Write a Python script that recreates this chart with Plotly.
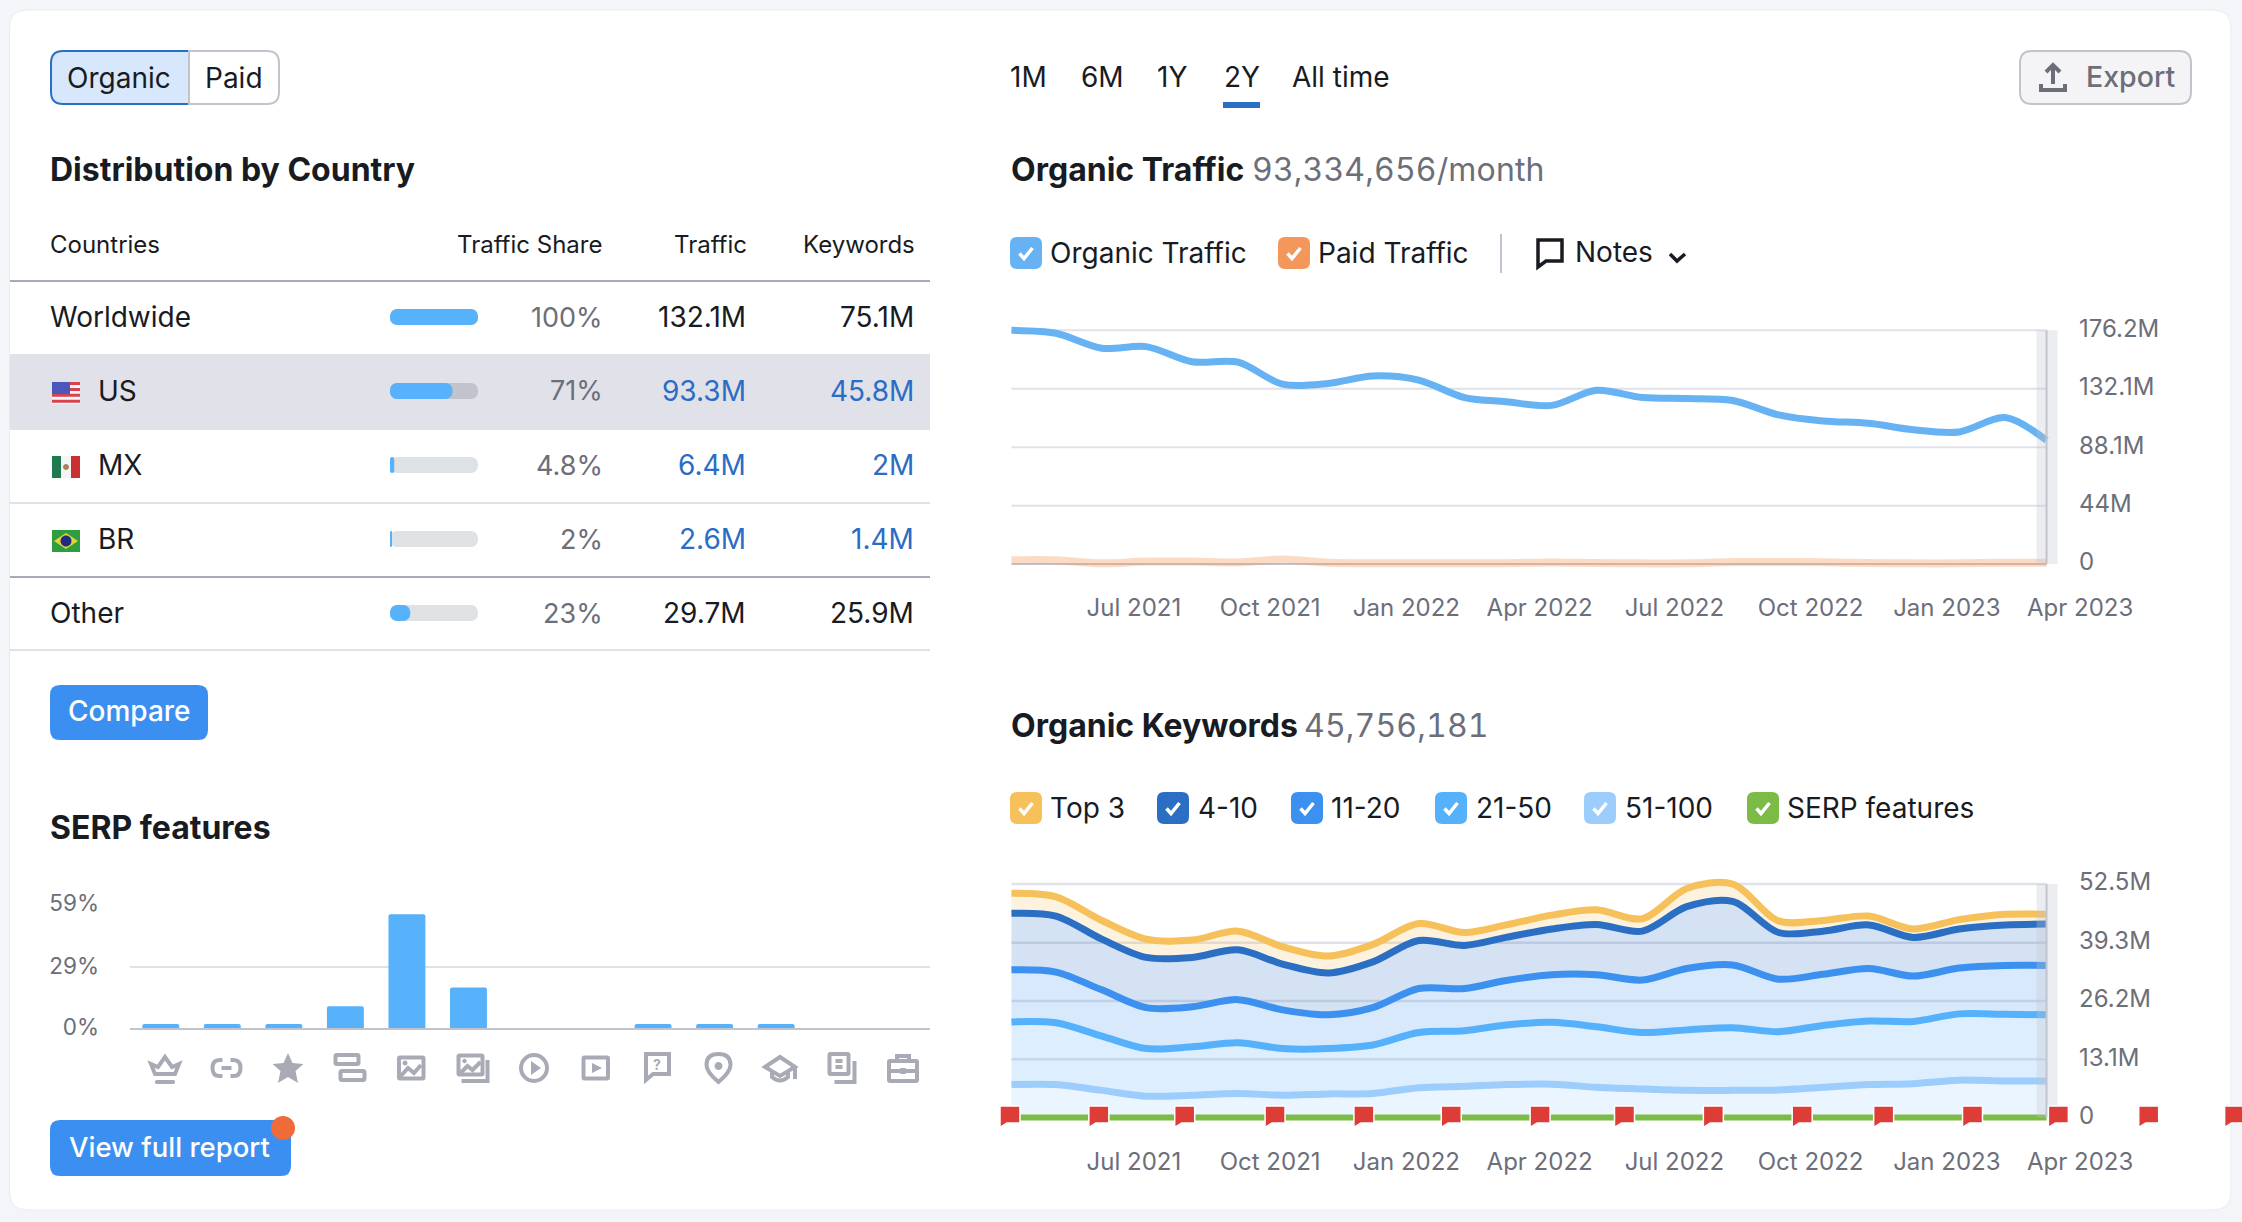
import plotly.graph_objects as go

W, H = 2242, 1222

# ---------- data ----------
countries = ["Worldwide", "US", "MX", "BR", "Other"]
share_values = [100, 71, 4.8, 2, 23]
share_labels = ["100%", "71%", "4.8%", "2%", "23%"]
traffic_labels = ["132.1M", "93.3M", "6.4M", "2.6M", "29.7M"]
keyword_labels = ["75.1M", "45.8M", "2M", "1.4M", "25.9M"]

serp_features = ["Featured snippet", "Sitelinks", "Reviews", "Top stories", "Images", "Image pack",
                 "Video", "Featured video", "People also ask", "Local pack", "Knowledge", "News", "Jobs"]
serp_values = [1.9, 1.9, 1.9, 10.4, 54.1, 19.3, 0, 0, 1.9, 1.9, 1.9, 0, 0]
serp_ticks = [0, 29, 59]
serp_ticktext = ["0%", "29%", "59%"]

months = ["2021-04-10", "2021-05-10", "2021-06-10", "2021-07-10", "2021-08-10", "2021-09-10",
          "2021-10-10", "2021-11-10", "2021-12-10", "2022-01-10", "2022-02-10", "2022-03-10",
          "2022-04-10", "2022-05-10", "2022-06-10", "2022-07-10", "2022-08-10", "2022-09-10",
          "2022-10-10", "2022-11-10", "2022-12-10", "2023-01-10", "2023-02-10", "2023-03-10"]
organic_traffic = [176.2, 174.0, 162.7, 163.9, 152.5, 152.2, 135.6, 136.2, 141.8, 138.7, 125.5, 122.4,
                   119.6, 131.0, 125.5, 124.8, 123.3, 112.5, 107.9, 106.1, 101.2, 99.6, 110.4, 93.3]
paid_traffic = [2.8, 2.8, 0.5, 1.8, 1.8, 1.2, 3.4, 1.0, 0.6, 0.5, 0.5, 0.6,
                1.2, 0.7, 0.5, 0.5, 1.5, 1.5, 1.3, 0.7, 0.5, 0.5, 0.9, 1.0]
traffic_ticks = [0, 44, 88.1, 132.1, 176.2]
traffic_ticktext = ["0", "44M", "88.1M", "132.1M", "176.2M"]

kw_top3 = [50.4, 49.6, 44.3, 40.1, 39.9, 41.9, 38.4, 36.3, 38.9, 43.6, 41.6, 43.3,
           45.5, 46.7, 44.7, 51.5, 52.5, 44.2, 44.3, 45.3, 42.4, 44.5, 45.7, 45.7]
kw_4_10 = [45.9, 45.3, 40.1, 36.0, 36.0, 37.7, 34.5, 32.5, 35.0, 39.8, 38.7, 40.5,
           42.4, 43.4, 41.9, 47.4, 48.6, 41.6, 41.9, 43.3, 40.5, 42.4, 43.3, 43.5]
kw_11_20 = [33.2, 32.7, 28.7, 24.7, 24.9, 26.5, 24.2, 23.1, 24.7, 29.0, 29.0, 30.8,
            32.1, 32.1, 30.9, 33.5, 34.3, 31.1, 32.2, 33.5, 31.8, 33.6, 34.2, 34.2]
kw_21_50 = [21.5, 21.3, 18.3, 15.5, 15.9, 16.8, 15.5, 15.5, 16.3, 19.1, 19.5, 20.8,
            21.4, 20.4, 19.1, 19.7, 20.2, 19.3, 20.7, 21.7, 21.6, 23.3, 23.2, 23.1]
kw_51_100 = [7.4, 7.4, 6.1, 4.8, 5.0, 5.4, 5.0, 5.3, 5.4, 6.7, 7.0, 7.4,
             7.5, 6.8, 6.4, 6.1, 6.1, 6.2, 6.8, 7.4, 7.6, 8.4, 8.2, 8.2]
kw_serp = [0] * 24
kw_ticks = [0, 13.1, 26.2, 39.3, 52.5]
kw_ticktext = ["0", "13.1M", "26.2M", "39.3M", "52.5M"]

date_ticks = ["2021-07-01", "2021-10-01", "2022-01-01", "2022-04-01",
              "2022-07-01", "2022-10-01", "2023-01-01", "2023-04-01"]
date_ticktext = ["Jul 2021", "Oct 2021", "Jan 2022", "Apr 2022",
                 "Jul 2022", "Oct 2022", "Jan 2023", "Apr 2023"]
note_dates = ["2021-04-09", "2021-06-08", "2021-08-05", "2021-10-05", "2021-12-04",
              "2022-02-01", "2022-04-02", "2022-05-29", "2022-07-28", "2022-09-26",
              "2022-11-20", "2023-01-19", "2023-03-18", "2023-05-18", "2023-07-15"]

# ---------- style ----------
FONT = "Inter"
DARK, GRAY, LINK = "#191b23", "#6c6e79", "#2b6cc4"
GRID, AXIS, ICON = "#e0e1e9", "#c1c4cd", "#a8abb5"
C_ORG, C_PAID = "#66b2f2", "#f4975a"
C_TOP3, C_410, C_1120, C_2150, C_51, C_SERP = "#f6c05a", "#2a6fc4", "#3b90f0", "#55b1fb", "#9dcdfd", "#7bbb46"
BTN = "#3b8ff0"


def fx(p):
    return p / W


def fy(p):
    return 1 - p / H


def pt(x, y):
    return f"{fx(x):.6f},{fy(y):.6f}"


def P(cmds, ox=0, oy=0):
    """cmds: list of (letter, x, y, ...) in pixels relative to (ox, oy)."""
    out = []
    for c in cmds:
        if c == "Z":
            out.append("Z")
        else:
            xy = c[1:]
            pts = [pt(ox + xy[i], oy + xy[i + 1]) for i in range(0, len(xy), 2)]
            out.append(c[0] + " ".join(pts))
    return " ".join(out)


def rr_cmds(x0, y0, x1, y1, r=0, rl=None, rr=None):
    rl = r if rl is None else rl
    rr = r if rr is None else rr
    return [("M", x0 + rl, y0), ("L", x1 - rr, y0), ("Q", x1, y0, x1, y0 + rr), ("L", x1, y1 - rr),
            ("Q", x1, y1, x1 - rr, y1), ("L", x0 + rl, y1), ("Q", x0, y1, x0, y1 - rl),
            ("L", x0, y0 + rl), ("Q", x0, y0, x0 + rl, y0), "Z"]


def circ_cmds(cx, cy, r):
    k = 0.5523 * r
    return [("M", cx - r, cy), ("C", cx - r, cy - k, cx - k, cy - r, cx, cy - r),
            ("C", cx + k, cy - r, cx + r, cy - k, cx + r, cy),
            ("C", cx + r, cy + k, cx + k, cy + r, cx, cy + r),
            ("C", cx - k, cy + r, cx - r, cy + k, cx - r, cy), "Z"]


shapes, annos = [], []


def shp(cmds, fill="rgba(0,0,0,0)", line=None, lw=0, ox=0, oy=0, layer="below"):
    shapes.append(dict(type="path", xref="paper", yref="paper", path=P(cmds, ox, oy), fillcolor=fill,
                       line=dict(color=line or "rgba(0,0,0,0)", width=lw), layer=layer))


def rect(x0, y0, x1, y1, fill, r=0, line=None, lw=0, layer="below", **kw):
    shp(rr_cmds(x0, y0, x1, y1, r, **kw), fill=fill, line=line, lw=lw, layer=layer)


def txt(x, y, s, size=28, color=DARK, anchor="left", weight=400):
    annos.append(dict(xref="paper", yref="paper", x=fx(x), y=fy(y), text=s, showarrow=False,
                      xanchor=anchor, yanchor="middle", borderpad=0, align=anchor,
                      font=dict(family=FONT, size=size, color=color, weight=weight)))


# card
rect(9.5, 10, 2231, 1210, "#ffffff", r=18, line="#ebecf1", lw=1)

# toggle
rect(51, 51, 189, 104, "#d7e8fc", line=C_410, lw=2, rl=12, rr=0)
rect(189, 51, 279, 104, "#ffffff", line=AXIS, lw=2, rl=0, rr=12)
txt(119, 78, "Organic", 28, anchor="center")
txt(233.5, 78, "Paid", 28, anchor="center")

# table
txt(49, 170, "Distribution by Country", 32, weight=700)
txt(49, 245, "Countries", 24)
txt(602.5, 245, "Traffic Share", 24, anchor="right")
txt(747.5, 245, "Traffic", 24, anchor="right")
txt(915.5, 245, "Keywords", 24, anchor="right")
rect(10, 354, 930, 430, GRID)
shp([("M", 10, 281), ("L", 930, 281)], line="#a8abb5", lw=2)
shp([("M", 10, 503), ("L", 930, 503)], line=GRID, lw=2)
shp([("M", 10, 577), ("L", 930, 577)], line="#a8abb5", lw=2)
shp([("M", 10, 650), ("L", 930, 650)], line=GRID, lw=2)
for i, c in enumerate(countries):
    cy = 317 + 74 * i
    lx = 97 if 1 <= i <= 3 else 49
    txt(lx, cy, c, 28)
    txt(603.5, cy, share_labels[i], 27, GRAY, "right")
    colr = LINK if 1 <= i <= 3 else DARK
    txt(747, cy, traffic_labels[i], 28, colr, "right")
    txt(915, cy, keyword_labels[i], 28, colr, "right")

# flags
rect(52, 382, 80, 404, "#f5f5f5")
for k in range(4):
    rect(52, 382 + k * 5.9, 80, 382 + k * 5.9 + 3, "#d9434e")
rect(52, 382, 70, 394, "#4c57bb")
rect(52, 456, 80, 478, "#f4f4f4")
rect(52, 456, 61, 478, "#1f7a50")
rect(71, 456, 80, 478, "#c9302f")
shp(circ_cmds(66, 467, 3), fill="#a8835a")
rect(52, 530, 80, 552, "#2e9e3f")
shp([("M", 54, 541), ("L", 66, 533), ("L", 78, 541), ("L", 66, 549), "Z"], fill="#e8d23a")
shp(circ_cmds(66, 541, 5.5), fill="#1f2f80")

# buttons
rect(50, 685, 208, 740, BTN, r=10)
txt(129, 711, "Compare", 28, "#ffffff", "center", 500)
txt(49, 827, "SERP features", 32, weight=700)
rect(50, 1120, 291, 1176, BTN, r=10)
txt(68, 1147, "View full report", 27.5, "#ffffff", weight=500)
shp(circ_cmds(283, 1128, 12), fill="#ef6c3a", layer="above")

# SERP icons
ICY = 1068
LW = 4


def ic(cmds, cx, fill=False):
    if fill:
        shp(cmds, fill=ICON, ox=cx, oy=ICY)
    else:
        shp(cmds, line=ICON, lw=LW, ox=cx, oy=ICY)


icx = [165, 226.5, 288, 349.5, 411, 472.5, 534, 595.5, 657, 718.5, 780, 841.5, 903]
# crown
ic([("M", -14, -4), ("L", -7, -1), ("L", 0, -11), ("L", 7, -1), ("L", 14, -4), ("L", 10, 6), ("L", -10, 6), "Z"], icx[0])
ic(rr_cmds(-10, 12, 10, 16, 1.5), icx[0], True)
# link
ic([("M", -4, -8), ("L", -7, -8), ("Q", -14, -8, -14, 0), ("Q", -14, 8, -7, 8), ("L", -4, 8)], icx[1])
ic([("M", 4, -8), ("L", 7, -8), ("Q", 14, -8, 14, 0), ("Q", 14, 8, 7, 8), ("L", 4, 8)], icx[1])
ic([("M", -5, 0), ("L", 5, 0)], icx[1])
# star
ic([("M", 0, -15), ("L", 4.5, -5), ("L", 15.5, -4), ("L", 7.5, 3), ("L", 10, 15), ("L", 0, 9), ("L", -10, 15),
    ("L", -7.5, 3), ("L", -15.5, -4), ("L", -4.5, -5), "Z"], icx[2], True)
# two bars
ic(rr_cmds(-14, -13, 9, -4, 1.5), icx[3])
ic(rr_cmds(-9, 3, 15, 12, 1.5), icx[3])
# image
ic(rr_cmds(-12, -10.5, 12.5, 10.5, 1), icx[4])
ic([("M", -11, 9), ("L", -3, 0), ("L", 3, 5), ("L", 10, -3)], icx[4])
shp(circ_cmds(-6, -5, 2.5), fill=ICON, ox=icx[4], oy=ICY)
# image stack
ic(rr_cmds(-14, -12.5, 10, 6.5, 1), icx[5])
ic([("M", -12, 5), ("L", -5, -2), ("L", 0, 2), ("L", 8, -6)], icx[5])
shp(circ_cmds(-8, -7, 2.2), fill=ICON, ox=icx[5], oy=ICY)
ic([("M", 15, -8), ("L", 15, 13), ("L", -11, 13)], icx[5])
# play circle
ic(circ_cmds(0, 0, 13), icx[6])
ic([("M", -3, -7), ("L", 7, 0), ("L", -3, 7), "Z"], icx[6], True)
# play rect
ic(rr_cmds(-12, -10.5, 12.5, 10.5, 1), icx[7])
ic([("M", -3.5, -5), ("L", 6.5, 0), ("L", -3.5, 5), "Z"], icx[7], True)
# question
ic([("M", -11, -14), ("L", 12, -14), ("L", 12, 6), ("L", -4, 6), ("L", -11, 12), "Z"], icx[8])
txt(icx[8], 1064, "?", 14, ICON, "center", 700)
# pin
ic([("M", 0, 14), ("Q", -12, 4, -12, -3), ("Q", -12, -14, 0, -14), ("Q", 12, -14, 12, -3), ("Q", 12, 4, 0, 14), "Z"], icx[9])
shp(circ_cmds(0, -2, 4), fill=ICON, ox=icx[9], oy=ICY)
# cap
ic([("M", -15, -1), ("L", 0, -11), ("L", 15, -1), ("L", 0, 8), "Z"], icx[10])
ic([("M", -8, 4), ("L", -8, 9), ("Q", 0, 16, 8, 9), ("L", 8, 4)], icx[10])
ic([("M", 15, -1), ("L", 15, 11)], icx[10])
# doc stack
ic(rr_cmds(-12, -14, 7, 6, 1), icx[11])
ic([("M", -6, -7), ("L", 1, -7)], icx[11])
ic([("M", -6, -1), ("L", 1, -1)], icx[11])
ic([("M", 13, -7), ("L", 13, 14), ("L", -7, 14)], icx[11])
# case
ic(rr_cmds(-14, -7, 14, 13, 1), icx[12])
ic([("M", -6, -8), ("L", -6, -12), ("L", 6, -12), ("L", 6, -8)], icx[12])
ic([("M", -14, 3), ("L", 14, 3)], icx[12])
ic(rr_cmds(-3, 0, 3, 6, 1), icx[12], True)

# time tabs
for x, s in zip([1009, 1080, 1156, 1223, 1291], ["1M", "6M", "1Y", "2Y", "All time"]):
    txt(x, 77, s, 28)
rect(1223, 102, 1260, 108, C_410)

# export
rect(2020, 51, 2191, 104, "#f4f4f6", r=12, line=AXIS, lw=2)
shp([("M", 2041, 84), ("L", 2041, 90), ("L", 2065, 90), ("L", 2065, 84)], line=GRAY, lw=4)
shp([("M", 2053, 84), ("L", 2053, 66)], line=GRAY, lw=4)
shp([("M", 2046, 72), ("L", 2053, 65), ("L", 2060, 72)], line=GRAY, lw=4)
txt(2085, 77, "Export", 28.5, GRAY, weight=500)

# headings
txt(1009.5, 170, "Organic Traffic", 32, weight=700)
txt(1251, 170, "93,334,656/month", 32, GRAY)
txt(1009.5, 725, "Organic Keywords", 32, weight=700)
txt(1303, 725, "45,756,181", 32, GRAY)


def checkbox(x, cy, color):
    rect(x, cy - 16, x + 32, cy + 16, color, r=7)
    shp([("M", x + 9.5, cy + 0.5), ("L", x + 14, cy + 5.5), ("L", x + 22.5, cy - 5)], line="#ffffff", lw=3.5)


checkbox(1010, 253, C_ORG)
txt(1049, 253, "Organic Traffic", 28)
checkbox(1278, 253, C_PAID)
txt(1317, 253, "Paid Traffic", 28)
shp([("M", 1501, 234), ("L", 1501, 273)], line=AXIS, lw=2)
shp([("M", 1538, 240), ("L", 1562, 240), ("L", 1562, 261), ("L", 1546, 261), ("L", 1538, 267), "Z"], line=DARK, lw=3.5)
txt(1574, 252, "Notes", 28)
shp([("M", 1670, 254), ("L", 1677, 261), ("L", 1685, 254)], line=DARK, lw=3.5)

for x, tx, s, c in [(1010, 1049, "Top 3", C_TOP3), (1157, 1197, "4-10", C_410), (1291, 1330, "11-20", C_1120),
                    (1435, 1475, "21-50", C_2150), (1584, 1624, "51-100", C_51), (1747, 1786, "SERP features", C_SERP)]:
    checkbox(x, 808, c)
    txt(tx, 808, s, 28)

# ---------- charts ----------
fig = go.Figure()

TRACK = ["#dfe2e5", AXIS, "#dfe2e5", "#dfe2e5", "#dfe2e5"]

# a bar with an explicit base gets both of its ends rounded
fig.add_trace(go.Bar(x=[100] * len(countries), y=countries, base=[0] * len(countries), orientation="h",
                     xaxis="x", yaxis="y", width=0.216, marker=dict(color=TRACK, cornerradius=8, line_width=0)))
fig.add_trace(go.Bar(x=share_values, y=countries, base=[0] * len(countries), orientation="h",
                     xaxis="x", yaxis="y", width=0.216, marker=dict(color="#58b1fb", cornerradius=8, line_width=0)))

# SERP bars
fig.add_trace(go.Bar(x=serp_features, y=serp_values, xaxis="x2", yaxis="y2", width=0.6,
                     marker=dict(color="#58b1fb", cornerradius=2, line_width=0)))

SMOOTH = 0.9
# traffic lines
fig.add_trace(go.Scatter(x=months, y=paid_traffic, xaxis="x3", yaxis="y3", mode="lines", cliponaxis=False,
                         line=dict(color="rgba(244,151,90,0.35)", width=8, shape="spline", smoothing=SMOOTH)))
fig.add_trace(go.Scatter(x=months, y=organic_traffic, xaxis="x3", yaxis="y3", mode="lines", cliponaxis=False,
                         line=dict(color=C_ORG, width=7, shape="spline", smoothing=SMOOTH)))


def rgba(hexc, a):
    return f"rgba({int(hexc[1:3],16)},{int(hexc[3:5],16)},{int(hexc[5:7],16)},{a})"


for i, (vals, col) in enumerate([(kw_51_100, C_51), (kw_21_50, C_2150), (kw_11_20, C_1120),
                                 (kw_4_10, C_410), (kw_top3, C_TOP3)]):
    fig.add_trace(go.Scatter(x=months, y=vals, xaxis="x4", yaxis="y4", mode="lines", cliponaxis=False,
                             fill="tozeroy" if i == 0 else "tonexty", fillcolor=rgba(col, 0.2),
                             line=dict(color=col, width=7, shape="spline", smoothing=SMOOTH)))
fig.add_trace(go.Scatter(x=months, y=kw_serp, xaxis="x4", yaxis="y4", mode="lines", cliponaxis=False,
                         line=dict(color=C_SERP, width=6)))

# gridlines limited to the data span, drawn through the chart scales
for v in traffic_ticks:
    shapes.append(dict(type="line", xref="x3", yref="y3", x0=months[0], x1=months[-1], y0=v, y1=v, layer="below",
                       line=dict(color=AXIS if v == 0 else GRID, width=2)))
for v in kw_ticks[1:]:
    shapes.append(dict(type="line", xref="x4", yref="y4", x0=months[0], x1=months[-1], y0=v, y1=v, layer="below",
                       line=dict(color=GRID, width=2.5)))

# end-of-range band
for xr, yr, top in [("x3", "y3", traffic_ticks[-1]), ("x4", "y4", kw_ticks[-1])]:
    shapes.append(dict(type="rect", xref=xr, yref=yr, xsizemode="pixel", xanchor=months[-1], x0=-10, x1=11, y0=0, y1=top,
                       fillcolor="rgba(193,196,205,0.3)", line_width=0, layer="above"))
    shapes.append(dict(type="line", xref=xr, yref=yr, x0=months[-1], x1=months[-1], y0=0, y1=top,
                       line=dict(color=AXIS, width=2), layer="above"))

# note flags
for d in note_dates:
    shapes.append(dict(type="path", xref="x4", yref="paper", xsizemode="pixel", ysizemode="pixel", xanchor=d,
                       yanchor=fy(1117.5), path="M-10,11.5 L10,11.5 L10,-5.5 L-3,-5.5 L-10,-10 Z", fillcolor="#de3c36",
                       line=dict(color="#ffffff", width=1.5), layer="above"))

tick = dict(family=FONT, size=24, color=GRAY)
date_range = ["2021-03-26 12:00", "2023-07-20"]
layout_x_dom = [fx(990), 1]

fig.update_layout(
    width=W, height=H, margin=dict(l=0, r=0, t=0, b=0, autoexpand=False), showlegend=False, hovermode=False,
    paper_bgcolor="#f4f5f9", plot_bgcolor="rgba(0,0,0,0)", barmode="overlay",
    font=dict(family=FONT), shapes=shapes, annotations=annos,
    # share bars
    xaxis=dict(domain=[fx(390), fx(478)], range=[0, 100], visible=False),
    yaxis=dict(domain=[fy(650), fy(280)], type="category", categoryarray=countries, range=[4.5, -0.5], visible=False),
    # SERP
    xaxis2=dict(domain=[fx(130), fx(930)], anchor="y2", type="category", categoryarray=serp_features,
                range=[-0.5, 12.5], showticklabels=False, showgrid=False, ticks="",
                showline=True, linecolor=AXIS, linewidth=2),
    yaxis2=dict(domain=[fy(1028), fy(904)], anchor="x2", range=[0, 59], tickvals=serp_ticks, ticktext=serp_ticktext,
                tickfont=dict(family=FONT, size=22.5, color=GRAY), gridcolor=GRID, gridwidth=2, zeroline=False,
                ticks="", ticklabelstandoff=30, ticklabelshift=-1),
    # traffic
    xaxis3=dict(domain=layout_x_dom, anchor="y3", type="date", range=date_range, tickvals=date_ticks,
                ticktext=date_ticktext, tickfont=tick, showgrid=False, ticks="", zeroline=False,
                ticklabelstandoff=17, ticklabelshift=1),
    yaxis3=dict(domain=[fy(574), fy(320)], anchor="free", position=fx(2046), side="right", range=[-7.54, 184],
                tickvals=traffic_ticks, ticktext=traffic_ticktext, tickfont=tick, showgrid=False, zeroline=False,
                ticks="", ticklabelstandoff=32, ticklabelshift=-2),
    # keywords
    xaxis4=dict(domain=layout_x_dom, anchor="y4", type="date", range=date_range, tickvals=date_ticks,
                ticktext=date_ticktext, tickfont=tick, showgrid=False, ticks="", zeroline=False,
                ticklabelstandoff=17, ticklabelshift=1),
    yaxis4=dict(domain=[fy(1127.5), fy(864)], anchor="free", position=fx(2046), side="right", range=[-2.25, 57],
                tickvals=kw_ticks, ticktext=kw_ticktext, tickfont=tick, showgrid=False, zeroline=False,
                ticks="", ticklabelstandoff=32, ticklabelshift=-2),
)

POST = """
document.body.style.margin='0';document.body.style.overflow='hidden';
document.querySelectorAll('.annotation-text').forEach(function(t){
  var s=t.textContent;
  if(s.indexOf('93,334')===0||s.indexOf('45,756')===0){t.style.fontVariantNumeric='tabular-nums';t.style.letterSpacing='0.15px';}
});
"""
fig.write_html("out.html", config=dict(displayModeBar=False), post_script=POST)
